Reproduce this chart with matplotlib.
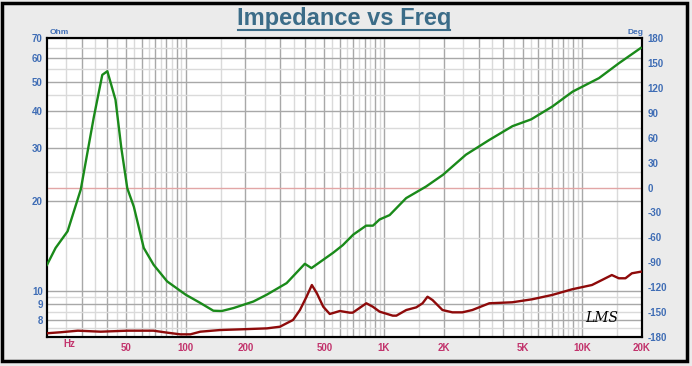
import matplotlib
matplotlib.use("Agg")
import matplotlib.pyplot as plt
from matplotlib.lines import Line2D
from matplotlib.patches import Rectangle
import numpy as np

# impedance curve (Ohm, left axis)
freq_z = [20, 22.1, 25.4, 29.6, 34.4, 38.0, 40.3, 44.3, 47.4, 50.8, 54.8, 61.5, 69,
          80.7, 100, 118.5, 138, 152, 174.5, 219.6, 256.7, 323, 399, 431, 555,
          620, 700, 813, 880, 950, 1068, 1294, 1630, 1982, 2590, 3390, 4445,
          5520, 7064, 8930, 12140, 15330, 19700]
imp = [12.2, 13.9, 15.8, 21.8, 37.9, 52.7, 54.2, 43.5, 30.0, 22.0, 19.1, 13.9,
       12.2, 10.74, 9.7, 9.1, 8.57, 8.55, 8.75, 9.2, 9.7, 10.6, 12.3, 11.9,
       13.4, 14.2, 15.4, 16.5, 16.5, 17.3, 17.9, 20.4, 22.3, 24.4, 28.5, 31.9,
       35.5, 37.4, 41.3, 46.3, 51.4, 57.7, 64.8]

# phase curve (Deg, right axis)
freq_p = [20, 23.4, 28.6, 37.3, 50.9, 68.8, 80.9, 94, 105.6, 118.6, 149.3, 188,
          257, 299, 348, 377, 407, 433, 459, 494, 533, 599, 672, 696, 815, 878,
          951, 1107, 1155, 1296, 1455, 1565, 1658, 1757, 1972, 2213, 2485, 2790,
          3397, 4433, 5585, 7043, 8873, 11187, 12560, 14090, 15280, 16500,
          17780, 19700]
phase = [-175.5, -174.3, -172.4, -173.6, -172.4, -172.4, -174.8, -176.8, -176.8,
         -173.6, -171.6, -170.8, -169.6, -167.6, -159.5, -147.5, -131.5, -117.4,
         -127.4, -143.5, -152.3, -148.7, -150.7, -150.7, -139.4, -143.5, -149.5,
         -154.3, -154.3, -147.5, -144.3, -139.4, -131.5, -135.5, -147.5, -150.3,
         -150.3, -147.5, -139.4, -138.2, -134.6, -129.4, -122.6, -117.4, -111.4,
         -105.4, -109.3, -109.3, -103.3, -101.4]

x_ticks = [50, 100, 200, 500, 1000, 2000, 5000, 10000, 20000]
x_labels = ["50", "100", "200", "500", "1K", "2K", "5K", "10K", "20K"]
z_ticks = [8, 9, 10, 20, 30, 40, 50, 60, 70]
deg_ticks = list(range(-180, 181, 30))

FONT = "Liberation Sans"
BLUE = "#3f6db5"
PINK = "#c2336c"

fig = plt.figure(figsize=(6.92, 3.66), dpi=100, facecolor="#ebebeb")
ax = fig.add_axes([47 / 692, 1 - 337 / 366, 595 / 692, 299 / 366])
ax.set_facecolor("white")
ax.set_xscale("log")
ax.set_yscale("log")
ax.set_xlim(20, 20000)
ax.set_ylim(7, 70)

# grid: dark at integer multiples, light at halves
for dec in [10, 100, 1000, 10000]:
    for m in range(1, 10):
        for v, c in [(m * dec, "#a8a8a8"), ((m + 0.5) * dec, "#dadada")]:
            if 20 < v < 20000:
                ax.axvline(v, color=c, lw=1, zorder=0)
for v in z_ticks:
    ax.axhline(v, color="#a8a8a8", lw=1, zorder=0)
for v in [7.5, 8.5, 9.5, 15, 25, 35, 45, 55, 65]:
    ax.axhline(v, color="#dadada", lw=1, zorder=0)

ax2 = ax.twinx()
ax2.set_ylim(-180, 180)
ax2.axhline(0, color="#e2a6a6", lw=1, zorder=1)

ax2.plot(freq_p, phase, color="#8e0a0a", lw=1.7, zorder=3)
ax2.plot(freq_z, imp, color="#1a8a1a", lw=1.7, zorder=4,
         transform=ax.transData)

ax.xaxis.set_minor_locator(matplotlib.ticker.NullLocator())
ax.yaxis.set_minor_locator(matplotlib.ticker.NullLocator())
ax.set_xticks(x_ticks)
ax.set_xticklabels(x_labels)
ax.set_yticks(z_ticks)
ax.set_yticklabels([str(v) for v in z_ticks])
ax2.set_yticks(deg_ticks)
ax2.set_yticklabels([str(v) for v in deg_ticks])

ax.tick_params(axis="x", length=0, pad=4, labelsize=7, labelcolor=PINK)
ax.tick_params(axis="y", length=0, pad=3, labelsize=7, labelcolor=BLUE)
ax2.tick_params(axis="y", length=0, pad=4, labelsize=7, labelcolor=BLUE)
for lab in ax.get_xticklabels() + ax.get_yticklabels() + ax2.get_yticklabels():
    lab.set_fontweight("bold")
    lab.set_family(FONT)

for a in (ax, ax2):
    for s in a.spines.values():
        s.set_color("black")
        s.set_linewidth(1.5)

fig.text(63 / 692, 1 - 344 / 366, "Hz", color=PINK, fontsize=7,
         fontweight="bold", family=FONT, va="center")
fig.text(50 / 692, 1 - 32 / 366, "Ohm", color=BLUE, fontsize=6,
         fontweight="bold", family=FONT, va="center")
fig.text(627 / 692, 1 - 32 / 366, "Deg", color=BLUE, fontsize=6,
         fontweight="bold", family=FONT, va="center")

# title with underline
fig.text(344 / 692, 1 - 19 / 366, "Impedance vs Freq", color="#3b6c88",
         fontsize=17, fontweight="bold", family=FONT, ha="center", va="center")
fig.add_artist(Line2D([238 / 692, 450 / 692], [1 - 29.5 / 366, 1 - 29.5 / 366],
                      color="#3b6c88", lw=1.5))

# LMS mark
ax.text(0.96, 0.04, "LMS", transform=ax.transAxes, ha="right", va="bottom",
        fontsize=10, fontstyle="italic", family="DejaVu Serif", color="black")

# outer frame
fig.add_artist(Rectangle((2 / 692, 1 - 361 / 366), 685 / 692, 358 / 366,
                         transform=fig.transFigure, fill=False,
                         edgecolor="black", lw=2.5))

fig.savefig("out.png", dpi=100, facecolor=fig.get_facecolor())
